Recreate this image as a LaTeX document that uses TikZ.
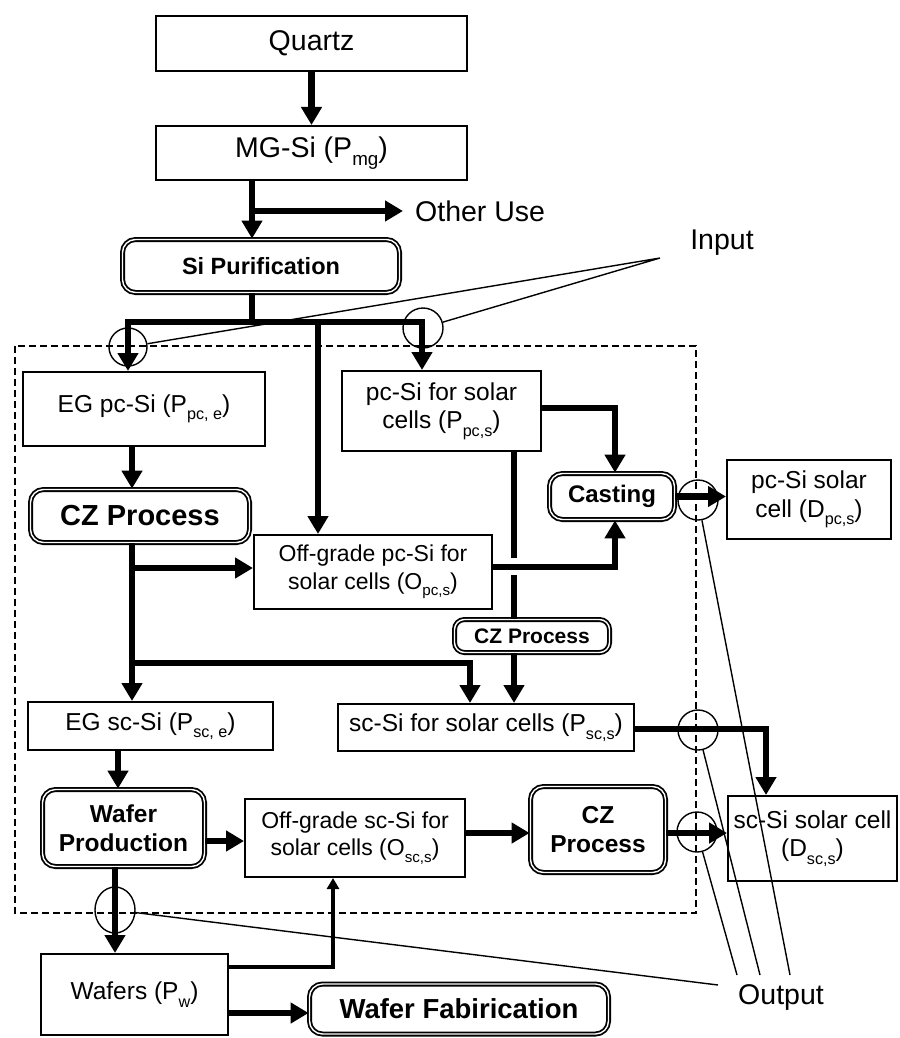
\documentclass[tikz,border=0pt]{standalone}
\usepackage{fontspec}
\setmainfont{Liberation Sans}
\usetikzlibrary{arrows.meta,shapes.geometric}
\newcommand\lsub[1]{\raisebox{-0.3em}{\scalebox{0.66}{#1}}}
\begin{document}
\begin{tikzpicture}[x=1pt,y=-1pt,
  tA/.style={font=\fontsize{28.5pt}{32pt}\selectfont},
  tB/.style={font=\fontsize{24.5pt}{28.5pt}\selectfont},
  tC/.style={font=\fontsize{23pt}{27.5pt}\selectfont},
  box/.style={draw, line width=2pt, fill=white, inner sep=0pt, align=center, tB},
  pbox/.style={draw, line width=1.8pt, double=white, double distance=1.4pt,
    rounded corners=13pt, fill=white, inner sep=0pt, align=center,
    font=\bfseries\fontsize{24.5pt}{28.5pt}\selectfont},
  tipA/.tip={Triangle[width=20pt,length=18pt]},
  tipB/.tip={Triangle[width=12pt,length=11pt]},
  ln/.style={line width=6.5pt, line join=miter},
  arr/.style={ln, -tipA},
  arrboth/.style={ln, tipA-tipA},
  marr/.style={line width=3.5pt, line join=miter, -tipB},
  thinln/.style={line width=1.4pt},
  ring/.style={draw, circle, line width=1.4pt, minimum size=40pt, inner sep=0pt},
  frame/.style={line width=1.8pt, dash pattern=on 7pt off 4pt}]
\useasboundingbox (0,0) rectangle (899,1038);

% frame
\draw[frame] (15,346) rectangle (696,913);

% nodes
\node[box, tA, minimum width=311pt, minimum height=55pt] (quartz) at (311.5,43.5) {Quartz};
\node[box, tA, minimum width=311pt, minimum height=54pt] (mg) at (311.5,153) {MG-Si (P\lsub{mg})};
\node[tA, anchor=west, inner xsep=12pt, inner ysep=0pt] (other) at (403,211) {Other Use};
\node[pbox, minimum width=277pt, minimum height=53pt, font=\bfseries\fontsize{23.5pt}{27pt}\selectfont] (sipur) at (261,266) {Si Purification};
\node[box, minimum width=242pt, minimum height=74pt] (egpc) at (144,409) {EG pc-Si (P\lsub{pc, e})};
\node[box, minimum width=199pt, minimum height=80pt] (pcsol) at (441.5,411) {pc-Si for solar\\cells (P\lsub{pc,s})};
\node[box, tC, minimum width=238pt, minimum height=74pt] (offpc) at (373,572) {Off-grade pc-Si for\\solar cells (O\lsub{pc,s})};
\node[pbox, minimum width=219pt, minimum height=53pt, font=\bfseries\fontsize{29pt}{32pt}\selectfont] (czbig) at (140,516) {CZ Process};
\node[pbox, minimum width=125pt, minimum height=46pt, font=\bfseries\fontsize{24pt}{28pt}\selectfont] (casting) at (612,496.5) {Casting};
\node[pbox, minimum width=155pt, minimum height=33pt, rounded corners=10pt, font=\bfseries\fontsize{21pt}{24pt}\selectfont] (czsmall) at (532,636) {CZ Process};
\node[box, minimum width=164pt, minimum height=79pt] (pcsc) at (809,499.5) {pc-Si solar\\cell (D\lsub{pc,s})};
\node[box, minimum width=245pt, minimum height=48pt] (egsc) at (150.5,726) {EG sc-Si (P\lsub{sc, e})};
\node[box, minimum width=296pt, minimum height=47pt] (scsol) at (486,727.5) {sc-Si for solar cells (P\lsub{sc,s})};
\node[pbox, minimum width=162pt, minimum height=77pt] (waferprod) at (123.5,828) {Wafer\\Production};
\node[box, tC, minimum width=220pt, minimum height=78pt] (offsc) at (355,838) {Off-grade sc-Si for\\solar cells (O\lsub{sc,s})};
\node[pbox, minimum width=135pt, minimum height=86pt] (czright) at (598,829.5) {CZ\\Process};
\node[box, minimum width=169pt, minimum height=85pt] (scsc) at (812.5,838.5) {sc-Si solar cell\\(D\lsub{sc,s})};
\node[box, minimum width=187pt, minimum height=81pt] (wafers) at (134.5,994.5) {Wafers (P\lsub{w})};
\node[pbox, minimum width=299pt, minimum height=50pt, font=\bfseries\fontsize{27.5pt}{31pt}\selectfont] (wafab) at (459,1009) {Wafer Fabirication};
\node[tA] (input) at (722,243) {Input};
\node[tA] (output) at (781,997) {Output};

% junction coordinates
\coordinate (j1) at (252,211);
\coordinate (bus) at (252,322);
\coordinate (busL) at (128,322);
\coordinate (busR) at (422,322);
\coordinate (busM) at (318,322);
\coordinate (vA) at (132,568);
\coordinate (vB) at (132,663);
\coordinate (k2) at (470,663);
\coordinate (c1) at (615,408);
\coordinate (c2) at (615,567);
\coordinate (g1) at (514,558);
\coordinate (g2) at (514,575);
\coordinate (s1) at (766,729);
\coordinate (w1) at (118,770);
\coordinate (w2) at (225,841);
\coordinate (w3) at (500,833);
\coordinate (w4) at (115,910);
\coordinate (w5) at (333,967);
\coordinate (w6) at (268,1013);

% connectors
\draw[arr] (quartz.south) -- (mg.north);
\draw[arr] (mg.south -| j1) -- (sipur.north -| j1);
\draw[arr] ([xshift=-3pt]j1) -- (other.west);
\draw[ln] (sipur.south -| bus) -- (bus);
\draw[arrboth] (egpc.north -| busL) -- (busL) -- (busR) -- (pcsol.north -| busR);
\draw[arr] (busM) -- (offpc.north -| busM);
\draw[arr] (egpc.south -| vA) -- (czbig.north -| vA);
\draw[arr] (czbig.south -| vA) -- (egsc.north -| vA);
\draw[arr] (vA) -- (vA -| offpc.west);
\draw[arr] (vB) -- (k2) -- (scsol.north -| k2);
\draw[arr] (pcsol.east |- c1) -- (c1) -- (casting.north -| c1);
\draw[arr] (offpc.east |- c2) -- (c2) -- (casting.south -| c2);
\draw[ln] (pcsol.south -| g1) -- (g1);
\draw[ln] (g2) -- (czsmall.north -| g2);
\draw[arr] (czsmall.south -| g1) -- (scsol.north -| g1);
\draw[arr] (casting.east) -- (casting.east -| pcsc.west);
\draw[arr] (scsol.east |- s1) -- (s1) -- (scsc.north -| s1);
\draw[arr] (egsc.south -| w1) -- (waferprod.north -| w1);
\draw[arr] (waferprod.east |- w2) -- (offsc.west |- w2);
\draw[arr] (offsc.east |- w3) -- (czright.west |- w3);
\draw[arr] (czright.east |- w3) -- (scsc.west |- w3);
\draw[arr] (waferprod.south -| w4) -- (wafers.north -| w4);
\draw[marr] (wafers.east |- w5) -- (w5) -- (offsc.south -| w5);
\draw[arr] (wafers.east |- w6) -- (wafab.west |- w6);

% rings
\node[ring, minimum size=38pt] (ci1) at (128,347) {};
\node[ring] (ci2) at (423,328) {};
\node[ring] (ci3) at (698,500) {};
\node[ring] (ci4) at (698,730) {};
\node[ring] (ci5) at (697,832) {};
\node[draw, ellipse, line width=1.4pt, minimum width=40pt, minimum height=46pt, inner sep=0pt] (ci6) at (115,910) {};

% callout lines
\coordinate (inp) at (660,258);
\draw[thinln] (ci1) -- (inp) -- (ci2);
\coordinate (o1) at (718,985);
\coordinate (o2) at (737,975);
\coordinate (o3) at (760,975);
\coordinate (o4) at (790,975);
\draw[thinln] (o1) -- (ci6);
\draw[thinln] (o2) -- (ci5);
\draw[thinln] (o3) -- (ci4);
\draw[thinln] (o4) -- (ci3);
\end{tikzpicture}
\end{document}
